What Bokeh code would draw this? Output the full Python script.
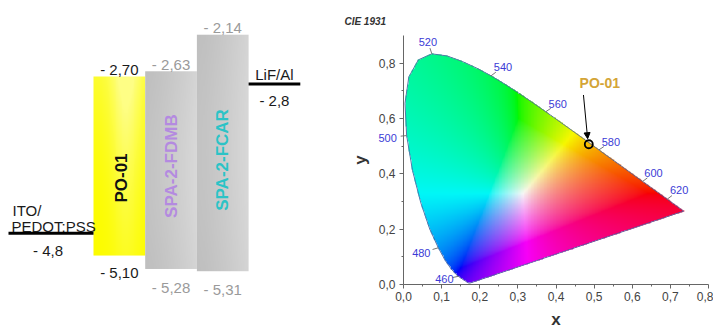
import numpy as np
from bokeh.plotting import figure
from bokeh.layouts import row
from bokeh.models import (ColumnDataSource, Label, Arrow, NormalHead, LinearAxis,
                          CustomJSTickFormatter, FixedTicker, Range1d)
from bokeh.core.properties import value
from bokeh.embed import file_html
from bokeh.resources import INLINE

FONT = "Liberation Sans"

# ---------------- data: energy level diagram (eV) ----------------
layers = ["PO-01", "SPA-2-FDMB", "SPA-2-FCAR"]
lumo = [-2.70, -2.63, -2.14]
homo = [-5.10, -5.28, -5.31]
lumo_text = ["- 2,70", "- 2,63", "- 2,14"]
homo_text = ["- 5,10", "- 5,28", "- 5,31"]
electrode_lines = [["ITO/", "PEDOT:PSS"], ["LiF/Al"]]
work_fn = [-4.8, -2.8]
work_fn_text = ["- 4,8", "- 2,8"]

# ---------------- data: CIE 1931 spectral locus ----------------
locus_wl = [380, 385, 390, 395, 400, 405, 410, 415, 420, 425, 430, 435, 440, 445,
            450, 455, 460, 465, 470, 475, 480, 485, 490, 495, 500, 505, 510, 515,
            520, 525, 530, 535, 540, 545, 550, 555, 560, 565, 570, 575, 580, 585,
            590, 595, 600, 605, 610, 615, 620, 625, 630, 635, 640, 645, 650, 655,
            660, 665, 670, 675, 680, 685, 690, 695, 700]
locus_x = [0.1741, 0.1740, 0.1738, 0.1736, 0.1733, 0.1730, 0.1726, 0.1721, 0.1714,
           0.1703, 0.1689, 0.1669, 0.1644, 0.1611, 0.1566, 0.1510, 0.1440, 0.1355,
           0.1241, 0.1096, 0.0913, 0.0687, 0.0454, 0.0235, 0.0082, 0.0039, 0.0139,
           0.0389, 0.0743, 0.1142, 0.1547, 0.1929, 0.2296, 0.2658, 0.3016, 0.3373,
           0.3731, 0.4087, 0.4441, 0.4788, 0.5125, 0.5448, 0.5752, 0.6029, 0.6270,
           0.6482, 0.6658, 0.6801, 0.6915, 0.7006, 0.7079, 0.7140, 0.7190, 0.7230,
           0.7260, 0.7283, 0.7300, 0.7311, 0.7320, 0.7327, 0.7334, 0.7340, 0.7344,
           0.7346, 0.7347]
locus_y = [0.0050, 0.0050, 0.0049, 0.0049, 0.0048, 0.0048, 0.0048, 0.0048, 0.0051,
           0.0058, 0.0069, 0.0086, 0.0109, 0.0138, 0.0177, 0.0227, 0.0297, 0.0399,
           0.0578, 0.0868, 0.1327, 0.2007, 0.2950, 0.4127, 0.5384, 0.6548, 0.7502,
           0.8120, 0.8338, 0.8262, 0.8059, 0.7816, 0.7543, 0.7243, 0.6923, 0.6589,
           0.6245, 0.5896, 0.5547, 0.5202, 0.4866, 0.4544, 0.4242, 0.3965, 0.3725,
           0.3514, 0.3340, 0.3197, 0.3083, 0.2993, 0.2920, 0.2859, 0.2809, 0.2770,
           0.2740, 0.2717, 0.2700, 0.2689, 0.2680, 0.2673, 0.2666, 0.2660, 0.2656,
           0.2654, 0.2653]
wl_marks = [460, 480, 500, 520, 540, 560, 580, 600, 620]
sample_name = ["PO-01"]
sample_x = [0.486]
sample_y = [0.507]
x_bounds = (0.0, 0.8)
y_bounds = (0.0, 0.9)
x_ticks = [0.0, 0.1, 0.2, 0.3, 0.4, 0.5, 0.6, 0.7, 0.8]
x_minor = [0.05, 0.15, 0.25, 0.35, 0.45, 0.55, 0.65, 0.75]
y_ticks = [0.0, 0.2, 0.4, 0.6, 0.8]
y_minor = [0.1, 0.3, 0.5, 0.7]

H = 329
WL_COLOR = "#3b3bd6"

# ======================= left: energy diagram =======================
left = figure(width=343, height=H, x_range=Range1d(-1.7988, 4.8356),
              y_range=Range1d(-6.0914, -1.6812), output_backend="svg",
              toolbar_location=None, x_axis_location=None, y_axis_location=None,
              title=None, min_border=0)
left.frame_align = False
left.grid.visible = False
left.outline_line_color = None


def bar_image(kind):
    nx, ny = 60, 120
    u = (np.arange(nx) + 0.5) / nx
    t = (np.arange(ny) + 0.5) / ny
    U, T = np.meshgrid(u, t)
    img = np.zeros((ny, nx), dtype=np.uint32)
    v = img.view(dtype=np.uint8).reshape((ny, nx, 4))
    if kind == "yellow":
        w = np.exp(-((U - 0.62) / 0.28) ** 2)
        white = np.clip(0.6 * w * (0.3 + 0.7 * T) + 0.25 * T ** 2, 0, 0.7)
        col = np.stack([252 + white * 3, 252 + white * 3, white * 190], axis=-1)
    else:
        shade = 191 + 22 * U ** 1.3 + 4 * np.sin(np.pi * T)
        col = np.stack([shade, shade, shade], axis=-1)
    v[..., :3] = np.clip(col, 0, 255).astype(np.uint8)
    v[..., 3] = 255
    return img


kinds = ["yellow", "gray", "gray"]
for i in range(len(layers)):
    left.image_rgba(image=[bar_image(kinds[i])], x=i, y=homo[i], dw=1,
                    dh=lumo[i] - homo[i])

# electrodes
elec_x0 = [-1.644, len(layers)]
elec_x1 = [0, len(layers) + 1]
left.segment(x0=elec_x0, y0=work_fn, x1=elec_x1, y1=work_fn,
             line_color="black", line_width=3)

value_color = ["#1a1a1a", "#9a9a9a", "#9a9a9a"]
centers = [i + 0.5 for i in range(len(layers))]
ito_mid = (elec_x0[0] + elec_x1[0]) / 2
lif_mid = (elec_x0[1] + elec_x1[1]) / 2
tsrc = ColumnDataSource(dict(
    x=centers + centers + [ito_mid, lif_mid, lif_mid],
    y=lumo + homo + [work_fn[0], work_fn[1], work_fn[1]],
    text=lumo_text + homo_text + [work_fn_text[0], work_fn_text[1],
                                  electrode_lines[1][0]],
    color=value_color + value_color + ["#1a1a1a"] * 3,
    xoff=[0, 0, 0, 0, 0, 0, -3, 0, 0],
    yoff=[-7, -7, -7, 17, 19, 18, 17, 17, -9],
))
left.text(x="x", y="y", text="text", source=tsrc, text_color="color",
          x_offset="xoff", y_offset="yoff", text_align="center",
          text_baseline="alphabetic", text_font=value(FONT), text_font_size="15px")

esrc = ColumnDataSource(dict(
    x=[elec_x0[0], elec_x0[0]], y=[work_fn[0], work_fn[0]],
    text=electrode_lines[0], xoff=[4, 3], yoff=[-23, -7],
))
left.text(x="x", y="y", text="text", source=esrc, x_offset="xoff",
          y_offset="yoff", text_align="left", text_baseline="alphabetic",
          text_color="#1a1a1a", text_font=value(FONT), text_font_size="15px")

# vertical layer names
nsrc = ColumnDataSource(dict(
    x=centers, y=[(a + b) / 2 for a, b in zip(lumo, homo)], text=layers,
    color=["#111111", "#b48ae0", "#2cc3c6"], xoff=[2, 0, 0], yoff=[12, -4, 7],
))
left.text(x="x", y="y", text="text", source=nsrc, text_color="color",
          x_offset="xoff", y_offset="yoff", angle=np.pi / 2,
          text_align="center", text_baseline="middle",
          text_font=value(FONT), text_font_size="17px", text_font_style="bold")

# ======================= right: CIE diagram =======================
# the frame fills the whole panel; the axes are pinned at x=0 / y=0
right = figure(width=370, height=H, x_range=Range1d(-0.1574, 0.8131),
               y_range=Range1d(-0.1626, 1.0265), output_backend="svg",
               toolbar_location=None, x_axis_location=None, y_axis_location=None,
               title=None, min_border=0)
right.frame_align = False
right.grid.visible = False
right.outline_line_color = None

right.add_layout(Label(x=-0.155, y=0.95, text="CIE 1931", text_align="left",
                       text_baseline="alphabetic", text_font=FONT,
                       text_font_size="10px", text_font_style="bold italic",
                       text_color="#333333"))

# chromaticity fill
res = 0.002
gx = np.arange(x_bounds[0], x_bounds[1], res) + res / 2
gy = np.arange(y_bounds[0], y_bounds[1], res) + res / 2
GX, GY = np.meshgrid(gx, gy)
px, py = np.array(locus_x), np.array(locus_y)
inside = np.zeros(GX.shape, dtype=bool)
j = len(px) - 1
with np.errstate(divide="ignore", invalid="ignore"):
    for i in range(len(px)):
        cross = (py[i] > GY) != (py[j] > GY)
        xint = (px[j] - px[i]) * (GY - py[i]) / (py[j] - py[i]) + px[i]
        inside ^= cross & (GX < xint)
        j = i
    Xc = GX / GY
    Zc = (1 - GX - GY) / GY
M = np.array([[3.2406, -1.5372, -0.4986],
              [-0.9689, 1.8758, 0.0415],
              [0.0557, -0.2040, 1.0570]])
rgb = np.stack([Xc, np.ones_like(Xc), Zc], axis=-1) @ M.T
rgb = np.nan_to_num(rgb, nan=0.0, posinf=0.0, neginf=0.0)
mn = np.minimum(rgb.min(axis=-1, keepdims=True), 0)
rgb = rgb - mn                      # desaturate out-of-gamut colours
mx = rgb.max(axis=-1, keepdims=True)
mx[mx == 0] = 1
rgb = np.power(rgb / mx, 1 / 1.6) * 0.97
ny, nx = GX.shape
cie_img = np.zeros((ny, nx), dtype=np.uint32)
cv = cie_img.view(dtype=np.uint8).reshape((ny, nx, 4))
cv[..., :3] = np.clip(rgb * 255, 0, 255).astype(np.uint8)
cv[..., 3] = np.where(inside, 255, 0).astype(np.uint8)
right.image_rgba(image=[cie_img], x=x_bounds[0], y=y_bounds[0],
                 dw=x_bounds[1] - x_bounds[0], dh=y_bounds[1] - y_bounds[0])

right.line(locus_x + [locus_x[0]], locus_y + [locus_y[0]],
           line_color="#3e5a9a", line_width=1, line_alpha=0.8)

# wavelength marks
wl_dx = [-14, -17, -19, -4, 12, 12, 12, 11, 12]
wl_dy = [-3, -5, -2, 12, 9, 8, 8, 8, 9]
wx = [locus_x[locus_wl.index(w)] for w in wl_marks]
wy = [locus_y[locus_wl.index(w)] for w in wl_marks]
ppx, ppy = 381.25, 276.67
tx0, ty0, tx1, ty1 = [], [], [], []
for x0, y0, dx, dy in zip(wx, wy, wl_dx, wl_dy):
    n = np.hypot(dx, dy)
    tx0.append(x0)
    ty0.append(y0)
    tx1.append(x0 + dx / n * 6 / ppx)
    ty1.append(y0 + dy / n * 6 / ppy)
right.segment(x0=tx0, y0=ty0, x1=tx1, y1=ty1, line_color="#777777", line_width=1)
for k, w in enumerate(wl_marks):
    right.add_layout(Label(x=wx[k], y=wy[k], text=str(w), x_offset=wl_dx[k],
                           y_offset=wl_dy[k], text_align="center",
                           text_baseline="middle", text_font=FONT,
                           text_font_size="11px", text_color=WL_COLOR))

# sample point
right.scatter(sample_x, sample_y, marker="circle", size=8, fill_color=None,
              line_color="black", line_width=1.8)
right.add_layout(Arrow(x_start=sample_x[0] - 0.014, y_start=sample_y[0] + 0.178,
                       x_end=sample_x[0] - 0.003, y_end=sample_y[0] + 0.02,
                       line_color="black", line_width=1,
                       end=NormalHead(size=6, fill_color="black", line_color="black")))
right.add_layout(Label(x=sample_x[0], y=sample_y[0], text=sample_name[0],
                       x_offset=11, y_offset=61, text_align="center",
                       text_baseline="middle", text_font=FONT,
                       text_font_size="14px", text_font_style="bold",
                       text_color="#d4a537"))

fmt = CustomJSTickFormatter(code="return tick.toFixed(1).replace('.', ',');")
xax = LinearAxis(fixed_location=0, bounds=x_bounds, axis_label="x",
                 ticker=FixedTicker(ticks=x_ticks, minor_ticks=x_minor))
yax = LinearAxis(fixed_location=0, bounds=y_bounds, axis_label="y",
                 ticker=FixedTicker(ticks=y_ticks, minor_ticks=y_minor))
for ax in (xax, yax):
    ax.formatter = fmt
    ax.axis_line_color = "#666666"
    ax.major_tick_line_color = "#666666"
    ax.minor_tick_line_color = "#666666"
    ax.major_tick_in = 0
    ax.major_tick_out = 4
    ax.minor_tick_in = 0
    ax.minor_tick_out = 2
    ax.major_label_standoff = 3
    ax.major_label_text_font = FONT
    ax.major_label_text_font_size = "12px"
    ax.major_label_text_color = "#444444"
    ax.axis_label_text_font = FONT
    ax.axis_label_text_font_size = "17px"
    ax.axis_label_text_font_style = "bold"
    ax.axis_label_text_color = "#333333"
    ax.axis_label_standoff = 6
yax.major_label_standoff = 4
right.add_layout(xax, "below")
right.add_layout(yax, "left")

layout = row(left, right)
open("out.html", "w").write(file_html(layout, INLINE))
